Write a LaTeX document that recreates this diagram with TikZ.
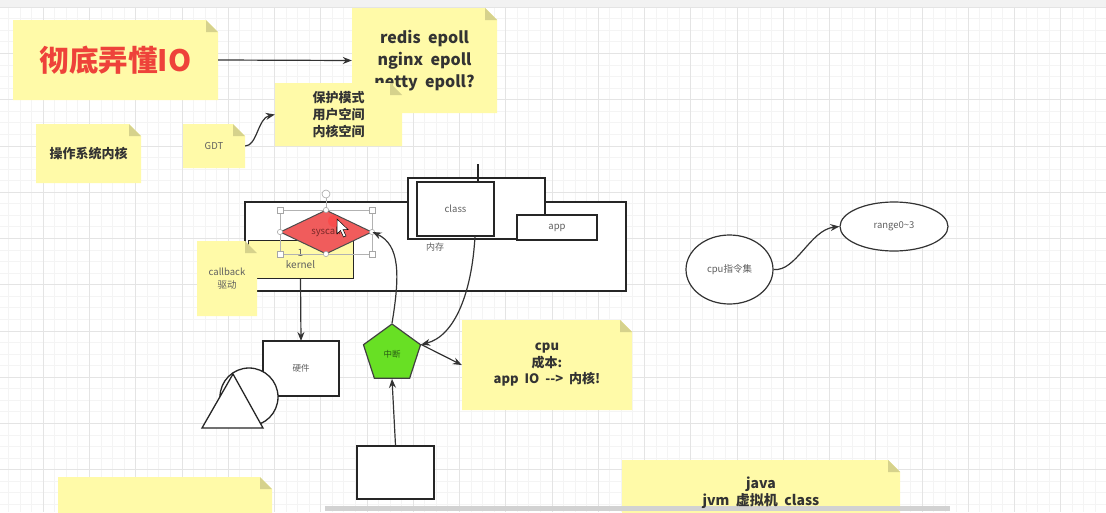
\documentclass[tikz,border=0pt]{standalone}
\usepackage{fontspec}
\setmainfont{Noto Sans CJK SC}
\usetikzlibrary{shapes.geometric,arrows.meta}

\definecolor{noteyel}{RGB}{255,250,168}
\definecolor{notefold}{RGB}{214,210,140}
\definecolor{titlered}{RGB}{238,66,58}
\definecolor{txtdark}{RGB}{51,51,51}
\definecolor{txtgray}{RGB}{95,95,95}
\definecolor{synred}{RGB}{240,92,92}
\definecolor{zdgreen}{RGB}{104,224,36}
\definecolor{gridminor}{RGB}{244,244,244}
\definecolor{gridmajor}{RGB}{228,228,228}

\newcommand\stickynote[7][]{%
  \fill[noteyel] (#3,#4) -- ({#5-12},#4) -- (#5,{#4+12}) -- (#5,#6) -- (#3,#6) -- cycle;
  \fill[notefold] ({#5-12},#4) -- (#5,{#4+12}) -- ({#5-12},{#4+12}) -- cycle;
  \node[inner sep=0pt, minimum width={(#5-#3)*1pt}, minimum height={(#6-#4)*1pt}, align=center, #1] (#2) at ({(#3+#5)/2},{(#4+#6)/2}) {#7};
}

\tikzset{
  shapeline/.style={draw=black!85, line width=1.3pt},
  conn/.style={draw=black!80, line width=1.2pt, -{Stealth[length=9pt,width=7pt]}},
  smalltxt/.style={font=\fontsize{9.5}{11.5}\selectfont, text=txtgray},
  handle/.style={draw=gray!70, fill=white, line width=0.6pt},
}

\begin{document}
\begin{tikzpicture}[x=1pt,y=-1pt]
\useasboundingbox (0,0) rectangle (1106,512);
\clip (0,0) rectangle (1106,512);
\fill[white] (0,0) rectangle (1106,512);
% grid
\foreach \k in {0,...,96} {\draw[gridminor, line width=0.5pt] ({-3.25+\k*11.5625},7) -- ({-3.25+\k*11.5625},512);}
\foreach \k in {0,...,44} {\draw[gridminor, line width=0.5pt] (0,{7+\k*11.5625}) -- (1106,{7+\k*11.5625});}
\foreach \k in {0,...,24} {\draw[gridmajor, line width=0.5pt] ({-3.25+\k*46.25},7) -- ({-3.25+\k*46.25},512);}
\foreach \k in {0,...,11} {\draw[gridmajor, line width=0.5pt] (0,{7+\k*46.25}) -- (1106,{7+\k*46.25});}
\fill[gray!10] (0,0) rectangle (1106,7);

% top notes
\stickynote[font=\fontsize{29.5}{33}\selectfont\bfseries, text=titlered]{title}{13}{20}{218}{100}{彻底弄懂IO}
\stickynote[font=\fontsize{16}{22}\selectfont\bfseries, text=txtdark]{redis}{352}{8}{497}{113}{redis\ \ epoll\\nginx\ \ epoll\\netty\ \ epoll?}
\draw[conn] (title.east) -- (redis.west);
\stickynote[font=\fontsize{13}{17}\selectfont\bfseries, text=txtdark]{bh}{275}{83}{402}{146}{保护模式\\用户空间\\内核空间}
\stickynote[font=\fontsize{13}{17}\selectfont\bfseries, text=txtdark]{os}{36}{124}{141}{183}{操作系统内核}
\stickynote[font=\fontsize{9.5}{11}\selectfont, text=txtgray]{gdt}{183}{124}{245}{168}{GDT}
\draw[conn] (gdt.east) .. controls (257,146) and (258,118) .. (bh.west);

% kernel / memory boxes
\node[shapeline, fill=white, minimum width=381pt, minimum height=89pt, inner sep=0pt] (big) at (435.5,246.5) {};
\node[shapeline, fill=white, minimum width=137pt, minimum height=61pt, inner sep=0pt] (mem) at (476.5,208.5) {};
\node[draw=black!85, line width=1.9pt, fill=white, minimum width=77pt, minimum height=54pt, inner sep=0pt, smalltxt] (class) at (455.5,209) {class};
\node[shapeline, fill=white, minimum width=80pt, minimum height=25pt, inner sep=0pt, smalltxt] (app) at (557,227.5) {app};
\node[smalltxt, font=\fontsize{9}{10}\selectfont] (neicun) at (435,247) {内存};
\coordinate (classtop) at (478,164);
\draw[draw=black!85, line width=1.6pt] (classtop) -- (classtop |- class.north);

\node[draw=black!85, line width=1pt, fill=noteyel, minimum width=105pt, minimum height=38pt, inner sep=0pt, align=center, font=\fontsize{10}{12}\selectfont, text=txtgray] (kn) at (300.5,259) {1\\kernel};
\stickynote[font=\fontsize{9.5}{12.5}\selectfont, text=txtgray]{cb}{197}{241}{257}{316}{callback\\驱动}

% syscall diamond with selection handles
\node[diamond, draw=black!70, line width=1pt, fill=synred, minimum width=92pt, minimum height=44pt, inner sep=0pt, font=\fontsize{9.5}{11}\selectfont, text={rgb,255:red,120;green,40;blue,40}] (sys) at (326,232) {syscall};
\draw[gray!60, line width=0.5pt] (280,210) rectangle (372,254);
\draw[gray!60, line width=0.5pt] (326,198) -- (326,210);
\foreach \p in {(280,210),(372,210),(280,254),(372,254)} {\draw[handle] \p ++(-2.8,-2.8) rectangle ++(5.6,5.6);}
\foreach \p in {(326,210),(326,254),(280,232),(372,232)} {\draw[handle] \p circle (2.6);}
\draw[handle] (326,194) circle (4);
\fill[red!75, opacity=0.55] (334,221) circle (6);
\draw[black, fill=white, line width=0.5pt] (337,219) -- (337,234) -- (340.5,230.5) -- (343.5,237) -- (346,236) -- (343,229.5) -- (348,229.5) -- cycle;

% hardware
\draw[conn] (kn.south) -- (301,341);
\node[shapeline, fill=white, minimum width=76pt, minimum height=55pt, inner sep=0pt, font=\fontsize{8.5}{10}\selectfont, text=txtgray] (hw) at (301,368.5) {硬件};
\draw[shapeline, fill=white] (249,397) circle (29);
\draw[shapeline, fill=white] (233,374) -- (263,428) -- (202,428) -- cycle;

% interrupt pentagon
\node[regular polygon, regular polygon sides=5, minimum size=60pt, inner sep=0pt, draw=black!75, line width=1.2pt, fill=zdgreen, font=\fontsize{8.5}{10}\selectfont, text={rgb,255:red,40;green,90;blue,20}] (zd) at (392,354) {中断};
\draw[conn] (zd.corner 1) .. controls (400,275) and (400,245) .. (sys.east);
\draw[conn] (475,236) .. controls (472,292) and (455,336) .. (zd.corner 5);
\node[shapeline, fill=white, minimum width=77pt, minimum height=53pt, inner sep=0pt] (bb) at (395.5,472.5) {};
\draw[conn] (bb.north) -- (zd.south);

% cpu note
\stickynote[font=\fontsize{13}{16.5}\selectfont\bfseries, text=txtdark]{cpu}{462}{320}{632}{410}{cpu\\成本:\\app\ \ IO\ \ -{}-{}>\ \ 内核!}
\draw[conn] (zd.corner 5) -- (cpu.west);

% ellipses
\node[ellipse, draw=black!80, line width=1.2pt, fill=white, minimum width=87pt, minimum height=69pt, inner sep=0pt, smalltxt] (ce) at (729.5,269.5) {cpu指令集};
\node[ellipse, draw=black!80, line width=1.2pt, fill=white, minimum width=108pt, minimum height=49pt, inner sep=0pt, smalltxt] (re) at (894,226.5) {range0\textasciitilde3};
\draw[conn] (ce.east) .. controls (796,272) and (810,230) .. (re.west);

% bottom notes
\stickynote{bl}{58}{477}{272}{520}{}
\stickynote{java}{622}{460}{900}{560}{}
% scrollbar
\fill[gray!35] (325,506) rectangle (950,511);
\node[font=\fontsize{14}{17}\selectfont\bfseries, text=txtdark, align=center] (javatxt) at (761,493) {java\\jvm\ \ 虚拟机\ \ class};
\end{tikzpicture}
\end{document}
